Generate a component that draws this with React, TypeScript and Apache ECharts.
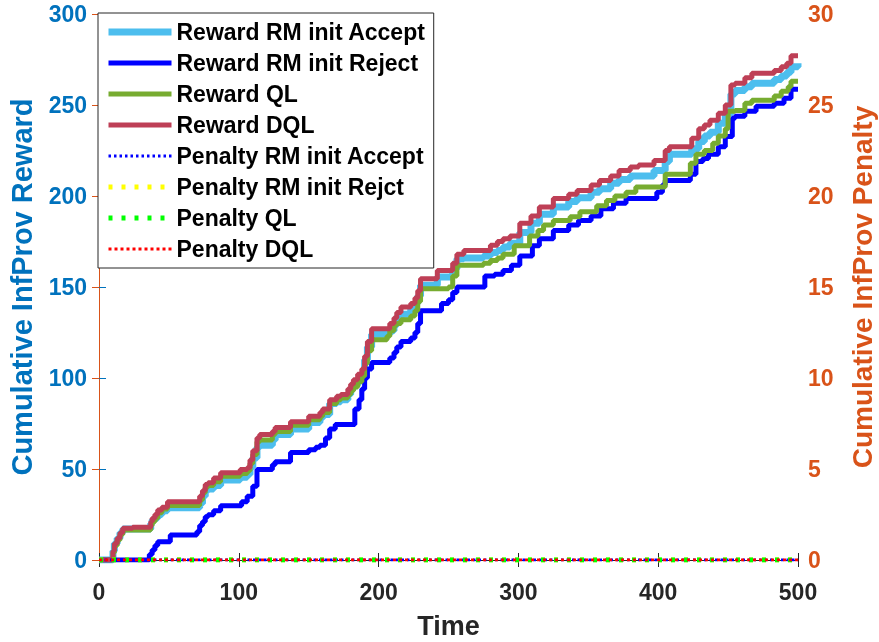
import React, { useEffect, useRef } from "react";
import * as echarts from "echarts";

const xTicks = [0, 100, 200, 300, 400, 500];

const rewardAccept: [number, number][] = [
  [0, 0], [8, 0], [10, 5], [11, 9], [13, 12], [15, 15], [17, 17], [35, 17], [37, 20], [38, 22], [40, 23], [42, 25], [45, 27], [49, 28.7],
  [72, 31], [74, 35], [76, 38], [78, 39], [82, 41], [87, 44], [101, 45.5], [106, 47], [108, 51], [110, 56], [113, 62], [115, 63],
  [124, 66], [126, 69], [137, 72], [150, 75.5], [158, 78], [160, 80], [165, 86], [170, 87], [173, 88], [178, 91], [180, 94], [182, 96],
  [185, 99], [188, 102], [190, 110], [192, 117], [195, 124], [208, 126], [211, 129], [213, 132], [216, 135], [223, 138], [226, 141],
  [228, 145], [230, 151], [242, 155.5], [253, 160], [256, 165.5], [261, 166], [275, 167], [280, 169], [285, 170], [289, 172],
  [294, 174], [301, 180], [309, 185], [315, 190], [325, 194], [336, 197], [342, 199], [352, 202], [358, 204], [366, 207], [372, 209],
  [380, 211], [397, 214], [405, 219], [408, 223], [424, 226], [429, 230], [433, 233], [437, 235], [443, 240], [448, 245], [452, 256],
  [455, 258], [462, 260], [467, 262], [483, 264], [488, 266], [492, 268], [495, 271], [500, 273],
];

const rewardReject: [number, number][] = [
  [0, 0], [35, 0], [36, 3], [38, 5.5], [40, 8], [42, 10], [51, 13.8], [70, 15.5], [72, 19], [74, 21], [76, 23.7], [78, 24.8], [82, 27],
  [87, 29.8], [102, 32], [106, 35], [110, 40.5], [113, 49.7], [124, 52.4], [126, 54], [137, 59], [150, 60.6], [155, 62], [158, 63],
  [162, 67], [165, 72], [169, 74.5], [183, 83], [186, 88], [188, 94], [190, 100], [192, 105], [195, 108.5], [208, 111], [211, 114],
  [213, 117], [216, 120], [223, 122], [226, 125], [228, 130], [230, 137], [245, 141], [250, 143], [253, 147], [256, 150], [276, 156],
  [283, 157], [289, 159], [295, 162], [301, 167], [310, 172.6], [315, 176.5], [325, 181], [336, 184], [343, 186.5], [352, 189],
  [359, 193], [368, 196], [377, 198.6], [399, 202], [403, 206], [405, 208.5], [423, 212], [427, 219], [432, 220.6], [436, 223],
  [443, 227], [448, 232.7], [453, 242.7], [455, 243.8], [462, 246.5], [470, 249.3], [483, 251], [490, 253.7], [495, 258.7], [500, 259],
];

const rewardQL: [number, number][] = [
  [0, 0], [8, 0], [10, 4], [11, 8], [13, 11], [15, 14], [17, 16.5], [37, 19], [38, 21], [40, 23], [42, 26], [45, 28], [49, 30],
  [72, 33], [74, 37], [76, 40], [78, 41], [82, 43], [87, 46], [101, 47.5], [106, 49], [108, 53], [110, 58], [113, 65], [115, 66],
  [124, 69], [126, 70.6], [137, 74], [150, 77], [158, 79], [160, 81], [165, 86], [170, 88], [173, 89], [178, 91], [180, 93], [182, 95],
  [185, 98], [188, 101], [190, 108], [192, 115], [195, 121], [206, 123], [208, 126], [211, 129], [213, 130], [216, 132], [223, 134],
  [226, 137], [228, 142], [230, 149], [250, 150], [253, 156], [256, 162], [275, 163], [280, 164.5], [285, 166], [289, 168],
  [297, 172.6], [308, 178], [314, 181], [318, 184], [325, 186.5], [337, 188.6], [344, 191.4], [356, 194.7], [363, 197.5], [369, 200],
  [377, 202], [384, 205], [405, 212], [423, 218], [427, 223], [433, 225], [439, 229], [443, 233], [448, 237], [450, 246.5], [455, 247],
  [462, 251], [467, 252.6], [483, 255], [488, 257.6], [493, 260], [495, 263], [500, 263],
];

const rewardDQL: [number, number][] = [
  [0, 0], [8, 0], [10, 5], [11, 9], [13, 12], [15, 15], [17, 17.5], [24, 18], [37, 21], [38, 23], [40, 25], [42, 27.5], [45, 29],
  [49, 32], [72, 35], [74, 38], [76, 41.5], [78, 42.5], [82, 45], [87, 48], [101, 49.7], [106, 50.7], [108, 55], [110, 60], [113, 67],
  [115, 69], [124, 70.6], [126, 72.8], [137, 76], [150, 79], [158, 81], [160, 83], [165, 88], [170, 90], [173, 91], [178, 94],
  [180, 96.5], [182, 99], [185, 102], [188, 105], [190, 112], [192, 120], [195, 127], [208, 130], [211, 133], [213, 136], [216, 139],
  [223, 141], [226, 144], [228, 148], [230, 154.5], [242, 159], [253, 163], [256, 168], [261, 170], [280, 173], [285, 175],
  [289, 176.5], [294, 178], [301, 185], [309, 189], [315, 194], [325, 198.6], [336, 201], [342, 203], [352, 206], [358, 208.5],
  [366, 211], [372, 214], [380, 216], [386, 217], [397, 219.5], [405, 225], [408, 227], [424, 231.7], [429, 237], [433, 239],
  [437, 241.6], [443, 245.5], [448, 250], [452, 261], [455, 262], [462, 265], [467, 267.5], [483, 269], [488, 271], [492, 273],
  [495, 277], [500, 277],
];

const penaltyAccept: [number, number][] = [[0, 0], [500, 0]];
const penaltyReject: [number, number][] = [[0, 0], [500, 0]];
const penaltyQL: [number, number][] = [[0, 0], [500, 0]];
const penaltyDQL: [number, number][] = [[0, 0], [500, 0]];

const FONT = "'Liberation Sans', Arial, Helvetica, sans-serif";
const LEFT_C = "#0072BD";
const RIGHT_C = "#D95319";
const AX = "#262626";

export default function App() {
  const ref = useRef<HTMLDivElement>(null);
  useEffect(() => {
    document.body.style.margin = "0";
    const chart = echarts.init(ref.current!, null, { renderer: "svg" });
    const reward = (name: string, data: [number, number][], color: string, width: number) => ({
      name,
      type: "line",
      data,
      step: "end",
      symbol: "none",
      yAxisIndex: 0,
      lineStyle: { color, width },
      itemStyle: { color },
    });
    const penalty = (name: string, data: [number, number][], color: string, width: number, dash: number[]) => ({
      name,
      type: "line",
      data,
      symbol: "none",
      yAxisIndex: 1,
      lineStyle: { color, width, type: dash },
      itemStyle: { color },
    });
    chart.setOption({
      animation: false,
      textStyle: { fontFamily: FONT },
      grid: { left: 99, right: 81, top: 14, bottom: 82, containLabel: false, outerBoundsMode: "none" },
      legend: {
        orient: "vertical",
        left: 98,
        top: 13,
        padding: [7, 8, 7, 7],
        itemWidth: 63,
        itemHeight: 24,
        itemGap: 7,
        itemTextGap: 7,
        itemStyle: { opacity: 0 },
        lineStyle: { width: "inherit", type: "inherit", color: "inherit" },
        backgroundColor: "#ffffff",
        borderColor: AX,
        borderWidth: 1,
        borderRadius: 0,
        textStyle: { fontFamily: FONT, fontWeight: "bold", fontSize: 23, color: "#000", lineHeight: 24 },
        data: [
          "Reward RM init Accept",
          "Reward RM init Reject",
          "Reward QL",
          "Reward DQL",
          "Penalty RM init Accept",
          "Penalty RM init Rejct",
          "Penalty QL",
          "Penalty DQL",
        ],
      },
      xAxis: [
        {
          type: "value",
          min: xTicks[0],
          max: xTicks[xTicks.length - 1],
          interval: 100,
          position: "bottom",
          name: "Time",
          nameLocation: "middle",
          nameGap: 52,
          nameTextStyle: { fontFamily: FONT, fontWeight: "bold", fontSize: 27, color: AX },
          axisLine: { show: true, lineStyle: { color: AX, width: 1 } },
          axisTick: { show: true, inside: true, length: 7, lineStyle: { color: AX } },
          axisLabel: { fontFamily: FONT, fontWeight: "bold", fontSize: 23, color: AX, margin: 20 },
          splitLine: { show: false },
        },
        {
          type: "value",
          min: 0,
          max: 500,
          interval: 100,
          position: "top",
          axisLine: { show: true, lineStyle: { color: AX, width: 1 } },
          axisTick: { show: true, inside: true, length: 7, lineStyle: { color: AX } },
          axisLabel: { show: false },
          splitLine: { show: false },
        },
      ],
      yAxis: [
        {
          type: "value",
          min: 0,
          max: 300,
          interval: 50,
          position: "left",
          name: "Cumulative InfProv Reward",
          nameLocation: "middle",
          nameGap: 63,
          nameRotate: 90,
          nameTextStyle: { fontFamily: FONT, fontWeight: "bold", fontSize: 29, color: LEFT_C },
          axisLine: { show: true, lineStyle: { color: LEFT_C, width: 1 } },
          axisTick: { show: true, inside: true, length: 7, lineStyle: { color: LEFT_C } },
          axisLabel: { fontFamily: FONT, fontWeight: "bold", fontSize: 23, color: LEFT_C, margin: 12 },
          splitLine: { show: false },
        },
        {
          type: "value",
          min: 0,
          max: 30,
          interval: 5,
          position: "right",
          name: "Cumulative InfProv Penalty",
          nameLocation: "middle",
          nameGap: 50,
          nameRotate: 90,
          nameTextStyle: { fontFamily: FONT, fontWeight: "bold", fontSize: 28, color: RIGHT_C },
          axisLine: { show: true, lineStyle: { color: RIGHT_C, width: 1 } },
          axisTick: { show: true, inside: true, length: 7, lineStyle: { color: RIGHT_C } },
          axisLabel: { fontFamily: FONT, fontWeight: "bold", fontSize: 23, color: RIGHT_C, margin: 10 },
          splitLine: { show: false },
        },
      ],
      series: [
        reward("Reward RM init Accept", rewardAccept, "#4DBEEE", 7),
        reward("Reward RM init Reject", rewardReject, "#0000FF", 5),
        reward("Reward QL", rewardQL, "#77AC30", 5),
        reward("Reward DQL", rewardDQL, "#BE3F56", 5),
        penalty("Penalty RM init Accept", penaltyAccept, "#0000FF", 3, [2.5, 3]),
        penalty("Penalty RM init Rejct", penaltyReject, "#FFFF00", 5, [4, 9]),
        penalty("Penalty QL", penaltyQL, "#00FF00", 5, [4, 9]),
        penalty("Penalty DQL", penaltyDQL, "#FF0000", 3, [3, 3]),
      ],
    });
    return () => chart.dispose();
  }, []);
  return <div ref={ref} style={{ width: 879, height: 642, position: "fixed", left: 0, top: 0 }} />;
}
